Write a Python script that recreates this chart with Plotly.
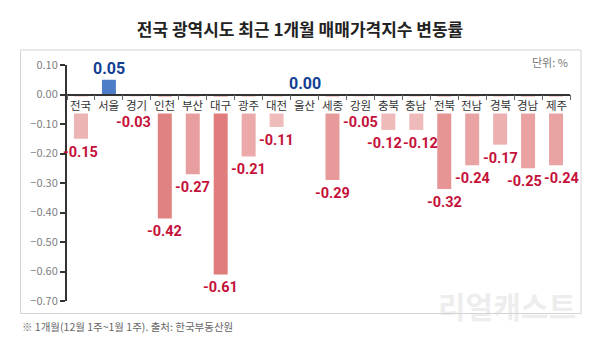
import plotly.graph_objects as go
from plotly.colors import sample_colorscale

regions = ['전국', '서울', '경기', '인천', '부산', '대구', '광주', '대전', '울산',
           '세종', '강원', '충북', '충남', '전북', '전남', '경북', '경남', '제주']
values = [-0.15, 0.05, -0.03, -0.42, -0.27, -0.61, -0.21, -0.11, 0.00,
          -0.29, -0.05, -0.12, -0.12, -0.32, -0.24, -0.17, -0.25, -0.24]
y_ticks = [0.10, 0.00, -0.10, -0.20, -0.30, -0.40, -0.50, -0.60, -0.70]

# small horizontal nudges for crowded value labels (style only)
label_nudge = {'경기': -3, '충북': -4, '충남': 4, '경남': -4, '제주': 5}

FONT = "Noto Sans CJK KR"
NUM_FONT = "Roboto"
RED_TXT = "#c5123a"
BLUE_TXT = "#123f93"
BLUE_BAR = "#4d7cc9"
neg_scale = [[0, "#e07c7c"], [1, "#f4d0d0"]]
cmin = -0.45
label_floor = -0.05  # value labels never start inside the category label band


def bar_color(v):
    if v >= 0:
        return BLUE_BAR
    t = min(max((v - cmin) / (0 - cmin), 0), 1)
    return sample_colorscale(neg_scale, [t])[0]


colors = [bar_color(v) for v in values]

fig = go.Figure()
fig.add_trace(go.Bar(
    x=regions, y=values, marker=dict(color=colors, line=dict(width=0)),
    hoverinfo="skip", showlegend=False,
))

ymin, ymax = -0.70, 0.10
annotations = []
for r in regions:
    annotations.append(dict(
        x=r, y=0, xref="x", yref="y", text=r, showarrow=False,
        yanchor="top", yshift=-1.5, bgcolor="white", borderpad=0,
        font=dict(family=FONT, size=11.5, color="#333"),
    ))
for r, v in zip(regions, values):
    if v >= 0:
        annotations.append(dict(
            x=r, y=v, xref="x", yref="y", text=f"{v:.2f}", showarrow=False,
            yanchor="bottom", yshift=0, xshift=label_nudge.get(r, 0),
            font=dict(family=NUM_FONT, size=16, color=BLUE_TXT, weight="bold"),
        ))
    else:
        annotations.append(dict(
            x=r, y=min(v, label_floor), xref="x", yref="y", text=f"{v:.2f}",
            showarrow=False, yanchor="top", yshift=-3, xshift=label_nudge.get(r, 0),
            font=dict(family=NUM_FONT, size=14.5, color=RED_TXT, weight="bold"),
        ))

annotations += [
    dict(x=1.0, y=1.0127, xref="paper", yref="paper", text="단위: %",
         showarrow=False, xanchor="right", yanchor="middle",
         font=dict(family=FONT, size=11, color="#777")),
    dict(x=-0.0934, y=-0.110, xref="paper", yref="paper",
         text="※ 1개월(12월 1주~1월 1주). 출처: 한국부동산원",
         showarrow=False, xanchor="left", yanchor="middle",
         font=dict(family=FONT, size=10.5, color="#666")),
    dict(x=0.875, y=-0.017, xref="paper", yref="paper", text="리얼캐스트",
         showarrow=False, xanchor="center", yanchor="middle",
         font=dict(family=FONT, size=30, color="rgba(215,215,215,0.45)", weight="bold")),
]

fig.update_layout(
    width=600, height=342,
    margin=dict(l=67, r=30, t=65, b=41),
    paper_bgcolor="white", plot_bgcolor="white",
    bargap=0.5,
    title=dict(text="전국 광역시도 최근 1개월 매매가격지수 변동률",
               x=0.5, xanchor="center", y=1 - 30 / 342, yanchor="middle",
               font=dict(family=FONT, size=17, color="#222", weight="bold")),
    xaxis=dict(
        type="category", range=[-0.5, len(regions) - 0.5],
        anchor="free", position=(0 - ymin) / (ymax - ymin),
        showline=True, linecolor="#333", linewidth=1.5,
        ticks="outside", tickson="boundaries", ticklen=5, tickcolor="#666", tickwidth=1,
        showticklabels=False, showgrid=False, zeroline=False,
    ),
    yaxis=dict(
        range=[ymin, ymax], tickvals=y_ticks, tickformat=".2f",
        showline=True, linecolor="#333", linewidth=2,
        ticks="outside", ticklen=5, tickcolor="#333", tickwidth=1.5,
        tickfont=dict(family=FONT, size=11, color="#808080"),
        showgrid=False, zeroline=False,
    ),
    annotations=annotations,
    shapes=[dict(type="rect", xref="paper", yref="paper",
                 x0=-0.0924, x1=1.0219, y0=-0.053, y1=1.0636,
                 line=dict(color="#d4d4d4", width=1), fillcolor="rgba(0,0,0,0)",
                 layer="below")],
)

fig.write_html("out.html")
